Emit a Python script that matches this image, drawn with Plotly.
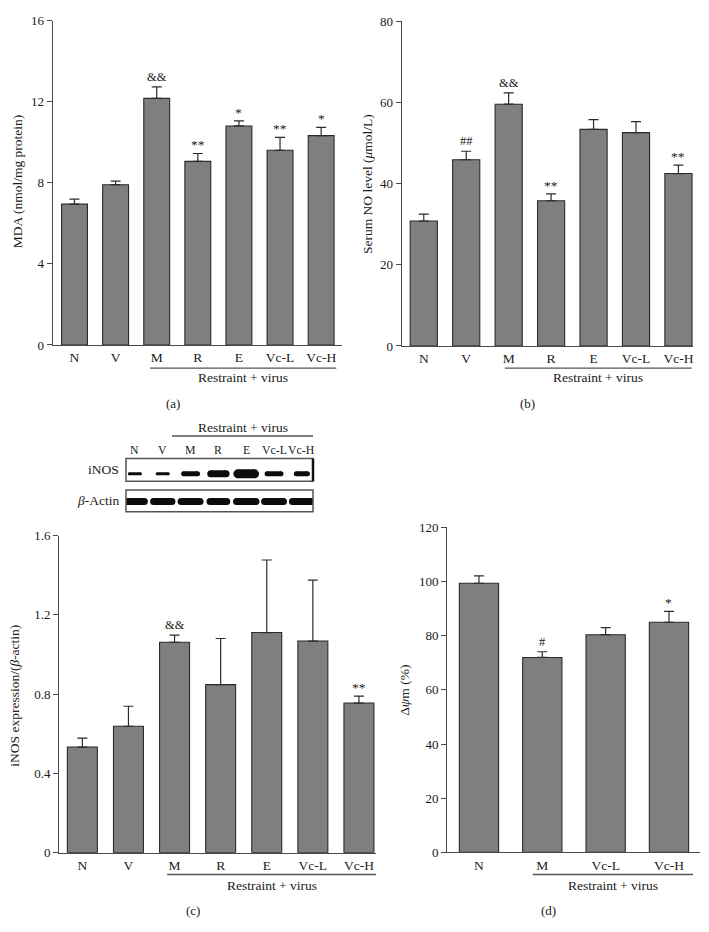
import plotly.graph_objects as go

W, H = 709, 932
FONT = "Liberation Serif"
BAR_FILL = "#7f7f7f"
EDGE = "#2b2b2b"
AXC = "#4a4a4a"
TXT = "#1a1a1a"

# ---------------- data ----------------
cats7 = ["N", "V", "M", "R", "E", "Vc-L", "Vc-H"]
cats4 = ["N", "M", "Vc-L", "Vc-H"]

mda_vals = [6.95, 7.91, 12.17, 9.06, 10.81, 9.61, 10.33]
mda_sem = [0.25, 0.18, 0.57, 0.39, 0.25, 0.64, 0.41]
mda_sig = ["", "", "&&", "**", "*", "**", "*"]

no_vals = [30.8, 45.9, 59.6, 35.8, 53.4, 52.6, 42.5]
no_sem = [1.7, 2.1, 2.8, 1.7, 2.4, 2.7, 2.1]
no_sig = ["", "##", "&&", "**", "", "", "**"]

inos_vals = [0.533, 0.638, 1.062, 0.848, 1.111, 1.068, 0.755]
inos_sem = [0.045, 0.101, 0.036, 0.233, 0.366, 0.308, 0.035]
inos_sig = ["", "", "&&", "", "", "", "**"]

dpsi_vals = [99.4, 72.0, 80.4, 85.0]
dpsi_sem = [2.7, 2.1, 2.6, 4.0]
dpsi_sig = ["", "#", "", "*"]

# western blot band appearance (thickness px, length in lane units)
inos_band_thick = [3, 3, 5, 7, 9, 5, 5]
inos_band_len = [0.4, 0.4, 0.5, 0.55, 0.6, 0.5, 0.4]
actin_band_thick = [7, 7, 7, 7, 7, 7, 7]
actin_band_len = [0.68, 0.66, 0.68, 0.6, 0.7, 0.68, 0.68]


def px(x):
    return x / W


def py(y):
    return 1 - y / H


fig = go.Figure()

panels = [
    dict(ax="", cats=cats7, vals=mda_vals, sem=mda_sem, sig=mda_sig,
         xd=(52.7, 341.7), yd=(14, 343.5), xr=(-0.53, 6.5), yr=(0, 16), dt=4, bw=0.63,
         yt="MDA (nmol/mg protein)", ytp=(17, 177), ln=(1.84, 6.37), lny=367, rvy=377,
         lab="(a)", labp=(173, 403)),
    dict(ax="2", cats=cats7, vals=no_vals, sem=no_sem, sig=no_sig,
         xd=(401.7, 693.3), yd=(14.7, 344.5), xr=(-0.52, 6.35), yr=(0, 80), dt=20, bw=0.64,
         yt="Serum NO level (<i>μ</i>mol/L)", ytp=(367, 180), ln=(1.91, 6.31), lny=367, rvy=377,
         lab="(b)", labp=(527, 403)),
    dict(ax="3", cats=cats7, vals=inos_vals, sem=inos_sem, sig=inos_sig,
         xd=(59.3, 376), yd=(537.3, 859.5), xr=(-0.5, 6.37), yr=(0, 1.6), dt=0.4, bw=0.65,
         yt="iNOS expression/(<i>β</i>-actin)", ytp=(15, 700), ln=(1.84, 6.39), lny=881.7, rvy=893,
         lab="(c)", labp=(193, 918)),
    dict(ax="4", cats=cats4, vals=dpsi_vals, sem=dpsi_sem, sig=dpsi_sig,
         xd=(447.3, 700), yd=(529, 859.2), xr=(-0.5, 3.49), yr=(0, 120), dt=20, bw=0.62,
         yt="Δ<i>ψ</i>m (%)", ytp=(405, 695), ln=(0.85, 3.38), lny=881.7, rvy=893,
         lab="(d)", labp=(548, 918)),
]

annotations = []
shapes = []


def note(**kw):
    base = dict(showarrow=False, xanchor="center", yanchor="middle")
    base.update(kw)
    annotations.append(base)


for p in panels:
    xa = "x" + p["ax"]
    ya = "y" + p["ax"]
    xs = list(range(len(p["cats"])))
    fig.add_trace(go.Bar(
        x=xs, y=p["vals"], width=p["bw"], xaxis=xa, yaxis=ya,
        marker=dict(color=BAR_FILL, line=dict(color=EDGE, width=1.1)),
        error_y=dict(type="data", symmetric=False, array=p["sem"],
                     arrayminus=[0] * len(p["sem"]), width=5, thickness=1.2, color=EDGE),
        showlegend=False, hoverinfo="skip",
    ))
    key = p["ax"]
    fig.layout["xaxis" + key] = dict(
        domain=[px(p["xd"][0]), px(p["xd"][1])], range=list(p["xr"]), anchor=ya,
        tickvals=xs, ticktext=p["cats"], ticks="", showline=True, linecolor=AXC,
        linewidth=1.3, showgrid=False, zeroline=False, fixedrange=True,
        tickfont=dict(family=FONT, size=13.5, color=TXT),
    )
    fig.layout["yaxis" + key] = dict(
        domain=[py(p["yd"][1]), py(p["yd"][0])], range=list(p["yr"]), anchor=xa,
        dtick=p["dt"], tick0=0, ticks="outside", ticklen=5, tickwidth=1.1,
        tickcolor=AXC, showline=True, linecolor=AXC, linewidth=1.3,
        showgrid=False, zeroline=False, fixedrange=True,
        tickfont=dict(family=FONT, size=13, color=TXT),
    )
    for i, s in enumerate(p["sig"]):
        if s:
            note(x=i, y=p["vals"][i] + p["sem"][i], xref=xa, yref=ya, text=s,
                 yanchor="bottom", yshift=-1 if "*" in s else 1,
                 font=dict(family=FONT, size=13.5 if "*" in s else 12.5, color=TXT))
    note(x=px(p["ytp"][0]), y=py(p["ytp"][1]), xref="paper", yref="paper",
         text=p["yt"], textangle=-90, font=dict(family=FONT, size=13.5, color=TXT))
    shapes.append(dict(type="line", xref=xa, yref="paper",
                       x0=p["ln"][0], x1=p["ln"][1], y0=py(p["lny"]), y1=py(p["lny"]),
                       line=dict(color="#555", width=1.3)))
    note(x=(p["ln"][0] + p["ln"][1]) / 2, y=py(p["rvy"]), xref=xa, yref="paper",
         text="Restraint + virus", font=dict(family=FONT, size=13.5, color=TXT))
    note(x=px(p["labp"][0]), y=py(p["labp"][1]), xref="paper", yref="paper",
         text=p["lab"], font=dict(family=FONT, size=13, color=TXT))

# ---------------- western blot ----------------
blot_rows = [38.5, 10.5]   # iNOS row, beta-actin row (axis units)
for i in range(len(cats7)):
    for row, th, ln in ((blot_rows[0], inos_band_thick[i], inos_band_len[i]),
                        (blot_rows[1], actin_band_thick[i], actin_band_len[i])):
        fig.add_trace(go.Scatter(
            x=[i - ln / 2, i + ln / 2], y=[row, row], xaxis="x5", yaxis="y5",
            mode="lines+markers", line=dict(color="#0c0c0c", width=th),
            marker=dict(color="#0c0c0c", size=th), showlegend=False, hoverinfo="skip",
        ))

fig.layout["xaxis5"] = dict(domain=[px(126), px(313)], range=[-0.32, 6.4],
                            anchor="y5", visible=False, fixedrange=True)
fig.layout["yaxis5"] = dict(domain=[py(513), py(459)], range=[0, 54],
                            anchor="x5", visible=False, fixedrange=True)

shapes.append(dict(type="rect", xref="paper", yref="paper", x0=px(126), x1=px(313),
                   y0=py(482), y1=py(459), line=dict(color="#555", width=1.5)))
shapes.append(dict(type="line", xref="paper", yref="paper", x0=px(313), x1=px(313),
                   y0=py(482), y1=py(459), line=dict(color="#111", width=2.5)))
shapes.append(dict(type="rect", xref="paper", yref="paper", x0=px(126), x1=px(313),
                   y0=py(513), y1=py(491), line=dict(color="#555", width=1.5)))

for i, c in enumerate(cats7):
    note(x=i, y=py(450), xref="x5", yref="paper", text=c,
         font=dict(family=FONT, size=11.8, color=TXT))
note(x=px(243), y=py(427), xref="paper", yref="paper", text="Restraint + virus",
     font=dict(family=FONT, size=13.5, color=TXT))
shapes.append(dict(type="line", xref="paper", yref="paper", x0=px(172), x1=px(313),
                   y0=py(436), y1=py(436), line=dict(color="#555", width=1.3)))
note(x=px(121), y=py(470.5), xref="paper", yref="paper", text="iNOS", xanchor="right",
     font=dict(family=FONT, size=13.5, color=TXT))
note(x=px(121), y=py(502), xref="paper", yref="paper", text="<i>β</i>-Actin",
     xanchor="right", font=dict(family=FONT, size=13.5, color=TXT))

fig.update_layout(
    width=W, height=H, margin=dict(l=0, r=0, t=0, b=0),
    paper_bgcolor="white", plot_bgcolor="white",
    annotations=annotations, shapes=shapes,
    font=dict(family=FONT, color=TXT),
)

fig.write_html("out.html", config={"displayModeBar": False},
               post_script="document.body.style.margin='0px';document.body.style.overflow='hidden';")
